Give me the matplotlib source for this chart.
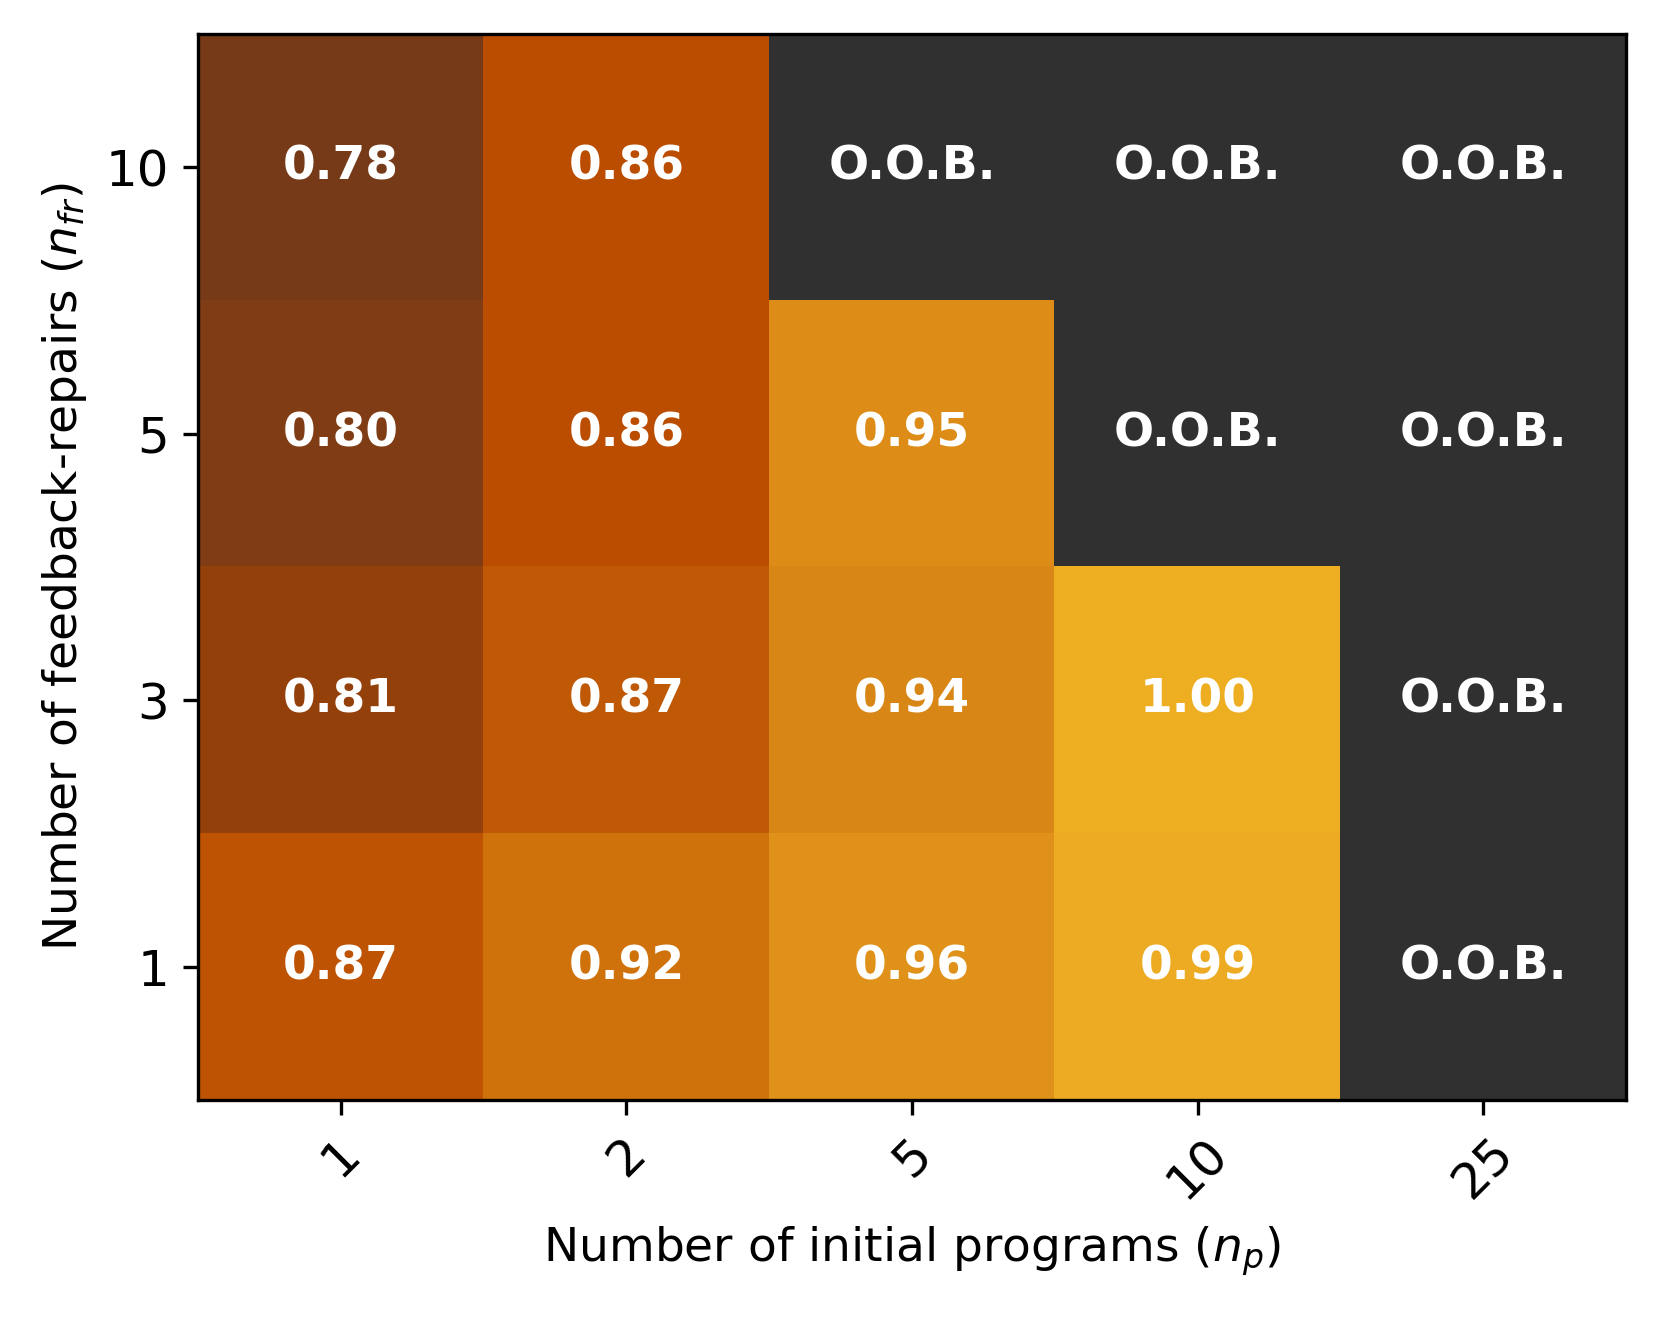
import numpy as np
import matplotlib
matplotlib.use("Agg")
import matplotlib.pyplot as plt
from matplotlib.colors import LinearSegmentedColormap

# pass rate grid, nan = out of budget (O.O.B.)
n_p = [1, 2, 5, 10, 25]
n_fr = [10, 5, 3, 1]
rates = np.array([
    [0.780, 0.862, np.nan, np.nan, np.nan],
    [0.800, 0.862, 0.950, np.nan, np.nan],
    [0.812, 0.872, 0.940, 1.000, np.nan],
    [0.868, 0.920, 0.958, 0.990, np.nan],
])

cmap = LinearSegmentedColormap.from_list("pr", [
    (0.00, "#763a18"), (0.09, "#803c15"), (0.14, "#93400c"),
    (0.37, "#bb4d00"), (0.42, "#c05a06"), (0.64, "#d0730d"),
    (0.73, "#d98716"), (0.82, "#e0931a"), (0.95, "#ecab22"),
    (1.00, "#eeae22")])
cmap.set_bad("#303030")

fig = plt.figure(figsize=(1660 / 300, 1318 / 300), dpi=300)
ax = fig.add_axes([0.1193, 0.1654, 0.8602, 0.8088])

ax.imshow(np.ma.masked_invalid(rates), cmap=cmap, vmin=0.78, vmax=1.0,
          aspect="auto", interpolation="nearest")

for i in range(len(n_fr)):
    for j in range(len(n_p)):
        v = rates[i, j]
        txt = "O.O.B." if np.isnan(v) else f"{v:.2f}"
        ax.text(j, i, txt, ha="center", va="center", color="white",
                fontsize=11.3, fontweight="bold")

ax.set_xticks(range(len(n_p)))
ax.set_xticklabels([str(x) for x in n_p], rotation=45, fontsize=12)
ax.set_yticks(range(len(n_fr)))
ax.set_yticklabels([str(y) for y in n_fr], fontsize=12)
ax.set_xlabel("Number of initial programs ($n_p$)", fontsize=11.3)
ax.set_ylabel("Number of feedback-repairs ($n_{fr}$)", fontsize=11.3)

fig.savefig("out.png", dpi=300)
